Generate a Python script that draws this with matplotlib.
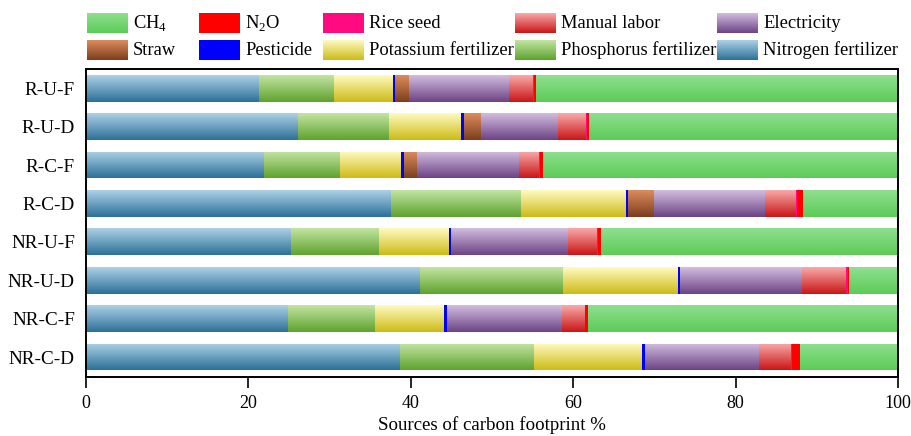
import numpy as np
import matplotlib
matplotlib.use("Agg")
import matplotlib.pyplot as plt
from matplotlib.colors import LinearSegmentedColormap

plt.rcParams['font.family'] = ['Liberation Serif', 'DejaVu Serif']
plt.rcParams['font.size'] = 13.3
plt.rcParams['mathtext.fontset'] = 'custom'
plt.rcParams['mathtext.rm'] = 'Liberation Serif'

# treatments, top to bottom
treatments = ["R-U-F", "R-U-D", "R-C-F", "R-C-D", "NR-U-F", "NR-U-D", "NR-C-F", "NR-C-D"]

# share of each source in the carbon footprint (%), stacked left to right
nitrogen   = [21.3, 26.1, 21.9, 37.5, 25.2, 41.1, 24.9, 38.7]
phosphorus = [9.2, 11.2, 9.4, 16.1, 10.9, 17.6, 10.7, 16.5]
potassium  = [7.3, 8.9, 7.5, 12.9, 8.6, 14.2, 8.5, 13.3]
pesticide  = [0.3, 0.3, 0.3, 0.3, 0.3, 0.3, 0.3, 0.3]
straw      = [1.7, 2.1, 1.7, 3.1, 0.0, 0.0, 0.0, 0.0]
electric   = [12.3, 9.5, 12.5, 13.7, 14.3, 15.0, 14.2, 14.1]
manual     = [3.0, 3.5, 2.5, 3.8, 3.6, 5.4, 2.8, 3.9]
rice_seed  = [0.1, 0.1, 0.1, 0.2, 0.1, 0.2, 0.1, 0.2]
n2o        = [0.2, 0.2, 0.4, 0.7, 0.4, 0.1, 0.3, 0.9]
ch4        = [44.6, 38.1, 43.7, 11.7, 36.6, 6.1, 38.2, 12.1]

# (name, values, (top colour, bottom colour)) - solid fills use the same colour twice
sources = [
    ("Nitrogen fertilizer", nitrogen, ("#acd1e6", "#2d7098")),
    ("Phosphorus fertilizer", phosphorus, ("#c2e5a2", "#60a22e")),
    ("Potassium fertilizer", potassium, ("#fffac0", "#cdbb17")),
    ("Pesticide", pesticide, ("#0000ff", "#0000ff")),
    ("Straw", straw, ("#dc8c5c", "#7c3e1e")),
    ("Electricity", electric, ("#d2bcdf", "#6c4485")),
    ("Manual labor", manual, ("#f9a9a9", "#c91616")),
    ("Rice seed", rice_seed, ("#ff0a80", "#ff0a80")),
    (r"N$_2$O", n2o, ("#ff0000", "#ff0000")),
    (r"CH$_4$", ch4, ("#8fdf8f", "#5ecb58")),
]

grad = np.linspace(0, 1, 64).reshape(-1, 1)


def gradient_fill(ax, x0, x1, y0, y1, top, bottom, clip=None):
    cmap = LinearSegmentedColormap.from_list("g", [bottom, top])
    im = ax.imshow(grad, extent=(x0, x1, y0, y1), origin="lower", cmap=cmap,
                   aspect="auto", interpolation="bicubic", zorder=2)
    if clip is not None:
        im.set_clip_path(clip)
    return im


fig = plt.figure(figsize=(9.12, 4.36), dpi=100)

# legend drawn by hand in pixel coordinates
lax = fig.add_axes([0, 0, 1, 1])
lax.axis("off")

legend_rows = [
    [r"CH$_4$", r"N$_2$O", "Rice seed", "Manual labor", "Electricity"],
    ["Straw", "Pesticide", "Potassium fertilizer", "Phosphorus fertilizer", "Nitrogen fertilizer"],
]
col_x = [87, 199, 323, 515, 717]
row_y = [23, 50.5]
colours = {name: c for name, _, c in sources}
for r, row in enumerate(legend_rows):
    for c, name in enumerate(row):
        top, bottom = colours[name]
        x0, y0 = col_x[c], row_y[r]
        gradient_fill(lax, x0, x0 + 41, y0 + 10, y0 - 10, top, bottom)
        lax.text(x0 + 46, y0, name, va="center", ha="left", fontsize=13.3)
lax.set_xlim(0, 912)
lax.set_ylim(436, 0)

ax = fig.add_axes([0.0943, 0.1353, 0.8904, 0.7064])
ypos = np.arange(len(treatments))[::-1]
height = 0.70
left = np.zeros(len(treatments))
for name, vals, (top, bottom) in sources:
    vals = np.array(vals)
    solid = top == bottom
    bars = ax.barh(ypos, vals, height, left=left,
                   color=top if solid else "none", edgecolor="none",
                   linewidth=0, zorder=3 if solid else 1)
    if not solid:
        for p in bars.patches:
            if p.get_width() <= 0:
                continue
            gradient_fill(ax, p.get_x(), p.get_x() + p.get_width(),
                          p.get_y(), p.get_y() + p.get_height(), top, bottom, clip=p)
    left += vals

ax.set_xlim(0, 100)
ax.set_ylim(-0.52, 7.5)
ax.set_yticks(ypos)
ax.set_yticklabels(treatments, fontsize=13.8)
ax.set_xticks(np.arange(0, 101, 20))
ax.tick_params(axis="y", length=0, pad=8)
ax.tick_params(axis="x", direction="out", length=8, width=1.2, pad=5, labelsize=13)
ax.set_xlabel("Sources of carbon footprint %", fontsize=13.6)
ax.xaxis.set_label_coords(0.5, -0.128, transform=ax.transAxes)
ax.xaxis.label.set_va("top")
for s in ax.spines.values():
    s.set_linewidth(1.4)

fig.savefig("out.png", dpi=100)
